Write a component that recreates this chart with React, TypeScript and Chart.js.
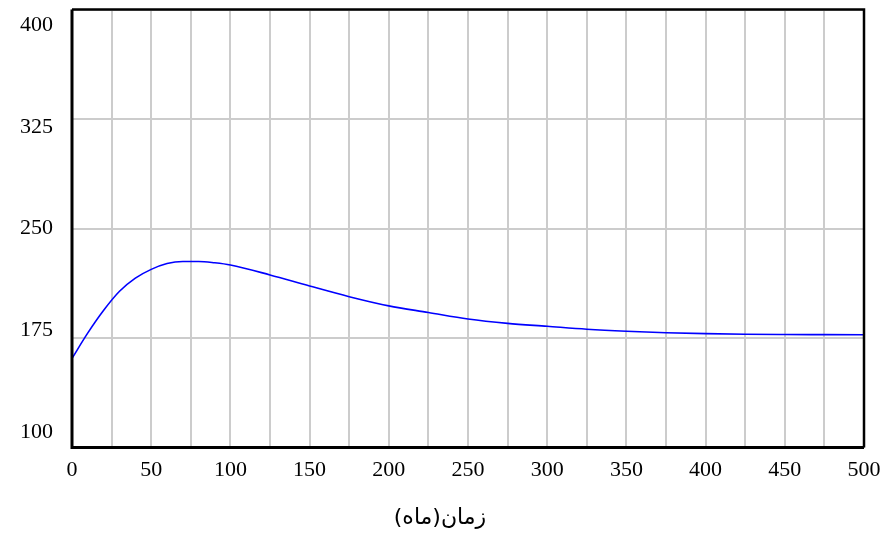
import React, { useEffect, useRef } from "react";
import { Chart, registerables } from "chart.js";

Chart.register(...registerables);

// time in months
const times = [0, 10, 20, 30, 40, 50, 60, 70, 80, 90, 100, 125, 150, 175, 200, 225, 250, 275, 300, 325, 350, 375, 400, 425, 450, 475, 500];
const values = [161, 178.5, 194, 207, 216, 222, 226, 227.4, 227.4, 226.5, 225, 218.2, 210.6, 203.3, 197, 192.5, 188, 185, 183, 181, 179.6, 178.6, 178, 177.6, 177.4, 177.3, 177.2];
const xTickLabels = ["0", "50", "100", "150", "200", "250", "300", "350", "400", "450", "500"];
const yTickLabels = ["400", "325", "250", "175", "100"];
const xTitle = "زمان(ماه)";

const textPlugin = {
  id: "textPlugin",
  afterDraw(chart: any) {
    const { ctx, chartArea } = chart;
    const xs = chart.scales.x;
    const { left, right, top, bottom } = chartArea;
    ctx.save();
    // frame
    ctx.strokeStyle = "#000";
    ctx.lineWidth = 3;
    ctx.beginPath();
    ctx.moveTo(left, top);
    ctx.lineTo(left, bottom);
    ctx.lineTo(right, bottom);
    ctx.stroke();
    ctx.lineWidth = 2.5;
    ctx.beginPath();
    ctx.moveTo(left, top);
    ctx.lineTo(right, top);
    ctx.lineTo(right, bottom);
    ctx.stroke();

    ctx.fillStyle = "#000";
    ctx.font = "22px 'Liberation Serif', serif";
    // y labels spread between top and bottom with inset
    ctx.textAlign = "right";
    ctx.textBaseline = "middle";
    const y0 = top + 15.5;
    const y1 = bottom - 15.5;
    yTickLabels.forEach((lab, i) => {
      const y = y0 + ((y1 - y0) * i) / (yTickLabels.length - 1);
      ctx.fillText(lab, left - 19, y);
    });
    // x labels
    ctx.textAlign = "center";
    xTickLabels.forEach((lab) => {
      const x = xs.getPixelForValue(Number(lab));
      ctx.fillText(lab, x, bottom + 23);
    });
    // x title
    ctx.font = "22px 'DejaVu Sans', 'Noto Sans', sans-serif";
    ctx.fillText(xTitle, (left + right) / 2 - 28, bottom + 71);
    ctx.restore();
  },
};

export default function App() {
  const ref = useRef<HTMLCanvasElement | null>(null);
  useEffect(() => {
    if (!ref.current) return;
    const chart = new Chart(ref.current, {
      type: "line",
      data: {
        datasets: [
          {
            data: times.map((t, i) => ({ x: t, y: values[i] })),
            borderColor: "#0000ff",
            borderWidth: 1.6,
            pointRadius: 0,
            cubicInterpolationMode: "monotone",
            fill: false,
          },
        ],
      },
      options: {
        responsive: false,
        animation: false,
        layout: { padding: { left: 72, right: 23, top: 9.5, bottom: 87.5 } },
        plugins: { legend: { display: false }, tooltip: { enabled: false } },
        scales: {
          x: {
            type: "linear",
            min: 0,
            max: 500,
            ticks: { stepSize: 25, display: false },
            grid: { color: "#cccccc", lineWidth: 2, drawTicks: false },
            border: { display: false },
          },
          y: {
            type: "linear",
            min: 100,
            max: 400,
            ticks: { stepSize: 75, display: false },
            grid: { color: "#cccccc", lineWidth: 2, drawTicks: false },
            border: { display: false },
          },
        },
      },
      plugins: [textPlugin],
    });
    return () => chart.destroy();
  }, []);
  return (
    <div style={{ position: "fixed", left: 0, top: 0, width: 887, height: 535, background: "#fff" }}>
      <canvas ref={ref} width={887} height={535} style={{ display: "block" }} />
    </div>
  );
}
